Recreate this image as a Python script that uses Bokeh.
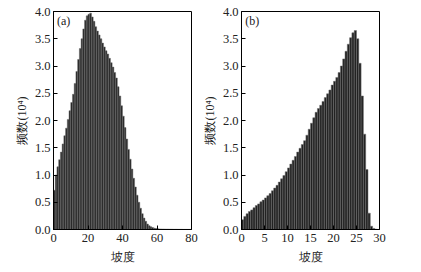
from bokeh.plotting import figure
from bokeh.layouts import row
from bokeh.models import Range1d, FixedTicker, Label
from bokeh.embed import file_html
from bokeh.resources import INLINE

# Panel (a): slope histogram, 1-degree bins, counts in 10^4
a_bin_width = 1.0
a_counts = [0.72, 1.00, 1.15, 1.28, 1.42, 1.57, 1.72, 1.86, 2.02, 2.18,
            2.33, 2.48, 2.68, 2.90, 3.12, 3.32, 3.50, 3.68, 3.84, 3.92,
            3.95, 3.97, 3.90, 3.82, 3.72, 3.64, 3.57, 3.50, 3.42, 3.35,
            3.28, 3.22, 3.14, 3.06, 2.98, 2.88, 2.78, 2.62, 2.45, 2.27,
            2.08, 1.87, 1.66, 1.47, 1.29, 1.11, 0.94, 0.78, 0.63, 0.50,
            0.39, 0.29, 0.21, 0.15, 0.10, 0.07, 0.05, 0.035, 0.025, 0.018,
            0.013, 0.010, 0.009, 0.008, 0.007, 0.006, 0.006, 0.005, 0.005, 0.004,
            0.004, 0.004, 0.003, 0.003, 0.003, 0.002, 0.002, 0.002, 0.002, 0.002]

# Panel (b): slope histogram, 0.5-degree bins, counts in 10^4
b_bin_width = 0.5
b_counts = [0.18, 0.24, 0.29, 0.33, 0.36, 0.40, 0.44, 0.47, 0.51, 0.54,
            0.58, 0.62, 0.66, 0.71, 0.76, 0.81, 0.87, 0.93, 0.99, 1.06,
            1.13, 1.20, 1.27, 1.34, 1.42, 1.49, 1.56, 1.63, 1.73, 1.84,
            1.95, 2.05, 2.15, 2.22, 2.28, 2.35, 2.42, 2.49, 2.56, 2.65,
            2.72, 2.79, 2.88, 3.00, 3.13, 3.27, 3.40, 3.52, 3.61, 3.65,
            3.50, 3.05, 2.45, 1.75, 1.10, 0.30, 0.06, 0.02, 0.005, 0.002]

a_xticks = [0, 20, 40, 60, 80]
b_xticks = [0, 5, 10, 15, 20, 25, 30]
yticks = [0.0, 0.5, 1.0, 1.5, 2.0, 2.5, 3.0, 3.5, 4.0]
ytick_labels = ["0.0", "0.5", "1.0", "1.5", "2.0", "2.5", "3.0", "3.5", "4.0"]
x_title = "坡度"
y_title = "频数(10⁴)"
panel_labels = ["(a)", "(b)"]

SERIF = "Liberation Serif"
FILL = "#222222"
EDGE = "#6e6e6e"


def make_panel(counts, bw, xmax, xticks, label, lab_x, left, right):
    p = figure(frame_width=138, frame_height=218, output_backend="svg", toolbar_location=None,
               x_range=Range1d(0, xmax), y_range=Range1d(0, 4.0),
               min_border_left=left, min_border_right=right,
               min_border_top=11, min_border_bottom=30)
    lefts = [i * bw for i in range(len(counts))]
    centers = [l + bw / 2 for l in lefts]
    p.vbar(x=centers, top=counts, bottom=0, width=bw,
           fill_color=FILL, line_color=EDGE, line_width=0.5)
    p.xgrid.visible = False
    p.ygrid.visible = False
    p.outline_line_color = "black"
    p.outline_line_width = 1
    p.background_fill_color = "white"
    p.border_fill_color = "white"
    p.xaxis.ticker = FixedTicker(ticks=xticks)
    p.yaxis.ticker = FixedTicker(ticks=yticks)
    p.yaxis.major_label_overrides = {t: s for t, s in zip(yticks, ytick_labels)}
    for ax in (p.xaxis, p.yaxis):
        ax.major_tick_in = 4
        ax.major_tick_out = 0
        ax.minor_tick_in = 0
        ax.minor_tick_out = 0
        ax.axis_line_color = "black"
        ax.major_tick_line_color = "black"
        ax.major_label_text_font = SERIF
        ax.major_label_text_font_size = "12.5px"
        ax.major_label_text_color = "#222222"
        ax.axis_label_text_font = SERIF
        ax.axis_label_text_font_size = "12px"
        ax.axis_label_text_font_style = "normal"
        ax.axis_label_text_color = "#222222"
    p.xaxis.major_label_standoff = 4
    p.yaxis.major_label_standoff = 3
    p.xaxis.axis_label = x_title
    p.yaxis.axis_label = y_title
    p.xaxis.axis_label_standoff = 5
    p.yaxis.axis_label_standoff = 3
    p.add_layout(Label(x=lab_x, y=3.83, text=label, text_font=SERIF,
                       text_font_size="12px", text_baseline="middle",
                       text_color="#222222"))
    return p


pa = make_panel(a_counts, a_bin_width, 80, a_xticks, panel_labels[0], 2.0, 53, 8)
pb = make_panel(b_counts, b_bin_width, 30, b_xticks, panel_labels[1], 0.8, 42, 10)

layout = row(pa, pb)
open("out.html", "w").write(file_html(layout, INLINE))
